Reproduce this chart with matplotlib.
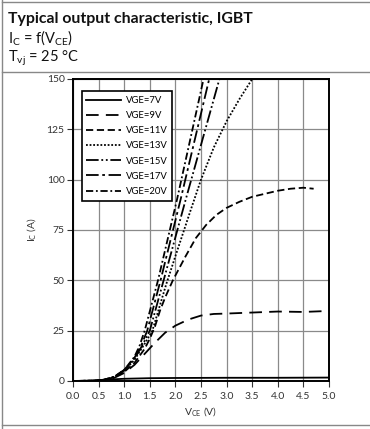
import matplotlib
matplotlib.use("Agg")
import matplotlib.pyplot as plt
from matplotlib.lines import Line2D

# curves: (V_CE [V], I_C [A])
v7 = [0.0, 0.5, 0.75, 1.0, 1.5, 2.0, 3.0, 4.0, 5.0]
i7 = [0.0, 0.3, 0.8, 1.1, 1.4, 1.5, 1.6, 1.6, 1.7]

v9 = [0.0, 0.4, 0.6, 0.8, 1.0, 1.2, 1.4, 1.6, 1.8, 2.0, 2.25, 2.5, 2.75,
      3.0, 3.5, 4.0, 4.5, 5.0]
i9 = [0.0, 0.1, 0.5, 1.5, 4.0, 8.0, 13.5, 19.0, 24.0, 27.5, 30.5, 32.5,
      33.3, 33.5, 34.0, 34.5, 34.3, 34.8]

v11 = [0.0, 0.4, 0.6, 0.8, 1.0, 1.2, 1.4, 1.5, 1.6, 1.7, 1.8, 1.95, 2.2,
       2.4, 2.6, 2.8, 3.0, 3.25, 3.5, 3.75, 4.0, 4.25, 4.5, 4.7]
i11 = [0.0, 0.1, 0.55, 1.8, 4.5, 9.0, 16.0, 21.0, 27.0, 35.0, 41.5, 50.0,
       62.0, 71.0, 77.5, 82.5, 86.0, 89.0, 91.5, 93.0, 94.5, 95.5, 96.0, 95.5]

v13 = [0.0, 0.4, 0.6, 0.8, 1.0, 1.2, 1.4, 1.55, 1.82, 2.0, 2.3, 2.5, 2.75,
       3.0, 3.25, 3.5]
i13 = [0.0, 0.15, 0.6, 2.0, 5.0, 10.5, 18.5, 25.0, 48.0, 62.0, 85.0, 100.0,
       116.0, 129.0, 140.0, 150.0]

v15 = [0.0, 0.4, 0.6, 0.8, 1.0, 1.2, 1.35, 1.5, 1.77, 2.2, 2.86]
i15 = [0.0, 0.15, 0.6, 2.0, 5.3, 11.0, 17.5, 25.0, 50.0, 90.0, 150.0]

v17 = [0.0, 0.4, 0.6, 0.8, 1.0, 1.2, 1.33, 1.45, 1.71, 2.1, 2.66]
i17 = [0.0, 0.15, 0.6, 2.0, 5.5, 11.5, 17.5, 25.0, 50.0, 90.0, 150.0]

v20 = [0.0, 0.4, 0.6, 0.8, 1.0, 1.2, 1.3, 1.4, 1.66, 2.03, 2.55]
i20 = [0.0, 0.15, 0.6, 2.0, 5.5, 12.0, 17.5, 25.0, 50.0, 90.0, 150.0]

labels = ["VGE=7V", "VGE=9V", "VGE=11V", "VGE=13V", "VGE=15V", "VGE=17V",
          "VGE=20V"]

x_ticks = [0.0, 0.5, 1.0, 1.5, 2.0, 2.5, 3.0, 3.5, 4.0, 4.5, 5.0]
y_ticks = [0, 25, 50, 75, 100, 125, 150]

plt.rcParams["font.family"] = ["Lato", "DejaVu Sans"]
plt.rcParams["mathtext.default"] = "regular"

fig = plt.figure(figsize=(3.7, 4.29), dpi=100)
ax = fig.add_axes([73 / 370, 1 - 381 / 429, 256 / 370, 302 / 429])

styles = [
    dict(linestyle="-"),
    dict(dashes=(7, 4)),
    dict(dashes=(4, 2)),
    dict(dashes=(1, 1)),
    dict(dashes=(7, 1.5, 1, 1.5, 1, 1.5)),
    dict(dashes=(7, 2, 1.5, 2)),
    dict(dashes=(4, 1.5, 1, 1.5)),
]
series = [(v7, i7), (v9, i9), (v11, i11), (v13, i13), (v15, i15),
          (v17, i17), (v20, i20)]

for (v, i), lab, st in zip(series, labels, styles):
    ax.plot(v, i, color="black", linewidth=1.3, label=lab, **st)

ax.set_xlim(0, 5)
ax.set_ylim(0, 150)
ax.set_xticks(x_ticks)
ax.set_yticks(y_ticks)
ax.set_xticklabels([f"{t:.1f}" for t in x_ticks])
ax.grid(True, color="#8a8a8a", linewidth=0.9)
ax.set_axisbelow(True)
ax.tick_params(length=4, width=0.8, colors="#333333", labelsize=7.5, pad=2)
ax.tick_params(axis="x", pad=4)
for spine in ax.spines.values():
    spine.set_linewidth(1.4)
    spine.set_color("black")

ax.set_xlabel("V$_{CE}$ (V)", fontsize=7.5, color="#333333", labelpad=3)
ax.set_ylabel("I$_{C}$ (A)", fontsize=7.5, color="#333333", labelpad=6)

leg = ax.legend(loc="upper left", bbox_to_anchor=(0.015, 0.975), fontsize=6.8,
                handlelength=3.7, handletextpad=0.5, labelspacing=0.65,
                borderpad=0.5, fancybox=False, framealpha=1,
                edgecolor="black")
leg.get_frame().set_linewidth(1.2)

# header box
fig.text(8 / 370, 1 - 23 / 429, "Typical output characteristic, IGBT",
         fontsize=11.4, fontweight="bold", color="#111111", ha="left",
         va="baseline")
fig.text(8 / 370, 1 - 43 / 429, "I$_{C}$ = f(V$_{CE}$)", fontsize=10.5,
         color="#111111", ha="left", va="baseline")
fig.text(8 / 370, 1 - 62 / 429, "T$_{vj}$ = 25 °C", fontsize=10.5,
         color="#111111", ha="left", va="baseline")

for yy in (2, 72, 425):
    fig.add_artist(Line2D([2 / 370, 1], [1 - yy / 429] * 2,
                          transform=fig.transFigure, color="#888888",
                          linewidth=1.0))
fig.add_artist(Line2D([2 / 370] * 2, [0, 1], transform=fig.transFigure,
                      color="#888888", linewidth=1.0))

fig.savefig("out.png", dpi=100)
